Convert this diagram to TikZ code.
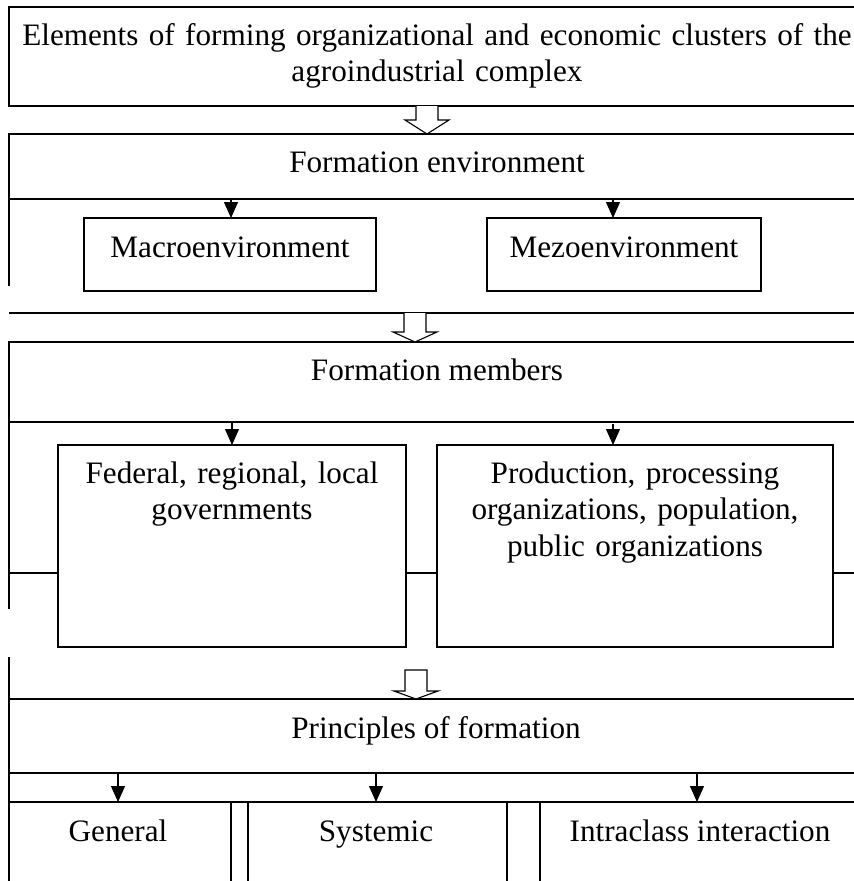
\documentclass[tikz,border=0pt]{standalone}
\usepackage{fontspec}
\setmainfont{Liberation Serif}
\usetikzlibrary{arrows.meta,calc}

% Hollow block arrow between two named points: #1 start, #2 tip, #3 head length
\newcommand\fatarrow[3]{%
  \draw[fill=white, line width=1.1pt]
    ($(#1)+(-11,0)$) -- ($(#2)+(-11,-#3)$) -- ($(#2)+(-22,-#3)$) -- (#2)
    -- ($(#2)+(22,-#3)$) -- ($(#2)+(11,-#3)$) -- ($(#1)+(11,0)$);}
% Same, closed at the top of the shaft
\newcommand\fatarrowclosed[3]{%
  \draw[fill=white, line width=1.1pt]
    ($(#1)+(-11,0)$) -- ($(#2)+(-11,-#3)$) -- ($(#2)+(-22,-#3)$) -- (#2)
    -- ($(#2)+(22,-#3)$) -- ($(#2)+(11,-#3)$) -- ($(#1)+(11,0)$) -- cycle;}

\begin{document}
\begin{tikzpicture}[x=1pt, y=-1pt, line width=1.3pt,
  frame/.style={draw, line width=1.3pt, inner sep=0pt, outer sep=0pt, anchor=north west},
  txt/.style={font=\fontsize{31.2}{36.5}\selectfont, inner sep=0pt, anchor=base, align=center},
  arr/.style={-{Triangle[length=16pt,width=14pt]}, line width=1.2pt}]

\useasboundingbox (0,0) rectangle (854,881);
\fill[white] (0,0) rectangle (854,881);
\clip (0,0) rectangle (854,881);

% ---------- heading ----------
\node[frame, minimum width=857pt, minimum height=99pt] (title) at (9,7) {};
\node[txt, text width=845pt] (titletext) at (437,45)
  {Elements of forming organizational and economic clusters of the\\ agroindustrial complex};

% ---------- formation environment ----------
\node[frame, minimum width=857pt, minimum height=65pt] (env) at (9,134) {};
\node[txt] (envtext) at (437,172) {Formation environment};
\node[frame, minimum width=292pt, minimum height=73pt] (macro) at (84,218) {};
\node[txt] (macrotext) at (230,257) {Macroenvironment};
\node[frame, minimum width=274pt, minimum height=73pt] (mezo) at (487,218) {};
\node[txt] (mezotext) at (624,257) {Mezoenvironment};
\draw (env.south west) -- ++(0,87);
\draw[arr] ($(macro.north)+(1,-19)$) -- ($(macro.north)+(1,0)$);
\draw[arr] ($(mezo.north)+(-11,-19)$) -- ($(mezo.north)+(-11,0)$);
\coordinate (sep1l) at (9,313);
\coordinate (sep1r) at (866,313);
\draw (sep1l) -- (sep1r);

\coordinate (a1s) at ($(title.south)+(-10.5,0)$);
\coordinate (a1t) at ($(env.north)+(-10.5,0)$);
\fatarrow{a1s}{a1t}{14}

% ---------- formation members ----------
\node[frame, minimum width=857pt, minimum height=80pt] (memb) at (9,342) {};
\node[txt] (membtext) at (437,380) {Formation members};
\node[frame, minimum width=348pt, minimum height=202pt] (gov) at (58,445) {};
\node[txt, text width=345pt] (govtext) at (232,483) {Federal, regional, local\\ governments};
\node[frame, minimum width=396pt, minimum height=202pt] (prod) at (437,445) {};
\node[txt, text width=390pt] (prodtext) at (635,483)
  {Production, processing\\ organizations, population,\\ public organizations};
\draw (memb.south west) -- ++(0,187);
\draw (9,573) -- (gov.west |- 0,573);
\draw (gov.east |- 0,573) -- (prod.west |- 0,573);
\draw (prod.east |- 0,573) -- (866,573);
\draw[arr] (gov.north |- memb.south) -- (gov.north);
\coordinate (p2) at ($(prod.north)+(-22,-21)$);
\draw[arr] (p2) -- ($(prod.north)+(-22,0)$);

\coordinate (a2t) at ($(memb.north)+(-22.5,0)$);
\fatarrow{sep1l -| a2t}{a2t}{10}

% ---------- principles of formation ----------
\node[frame, minimum width=857pt, minimum height=74pt] (princ) at (9,699) {};
\node[txt] (princtext) at (436,738) {Principles of formation};
\coordinate (lowl) at (9,657);
\draw (lowl) -- (9,885);
\coordinate (a3s) at (416,670);
\coordinate (a3t) at ($(princ.north)+(-21.5,0)$);
\fatarrowclosed{a3s}{a3t}{8}

\node[frame, minimum width=222pt, minimum height=100pt] (gen) at (9,802) {};
\node[frame, minimum width=259pt, minimum height=100pt] (sys) at (248,802) {};
\node[frame, minimum width=326pt, minimum height=100pt] (intra) at (540,802) {};
\draw (gen.north east) -- (intra.north west);
\node[txt] (gentext) at (118,841) {General};
\node[txt] (systext) at (376,841) {Systemic};
\node[txt] (intratext) at (700,841) {Intraclass interaction};
\draw[arr] ($(gen.north)+(-2,-29)$) -- ($(gen.north)+(-2,0)$);
\draw[arr] ($(sys.north)+(-1.5,-29)$) -- ($(sys.north)+(-1.5,0)$);
\draw[arr] ($(intra.north)+(-6,-29)$) -- ($(intra.north)+(-6,0)$);

\end{tikzpicture}
\end{document}
